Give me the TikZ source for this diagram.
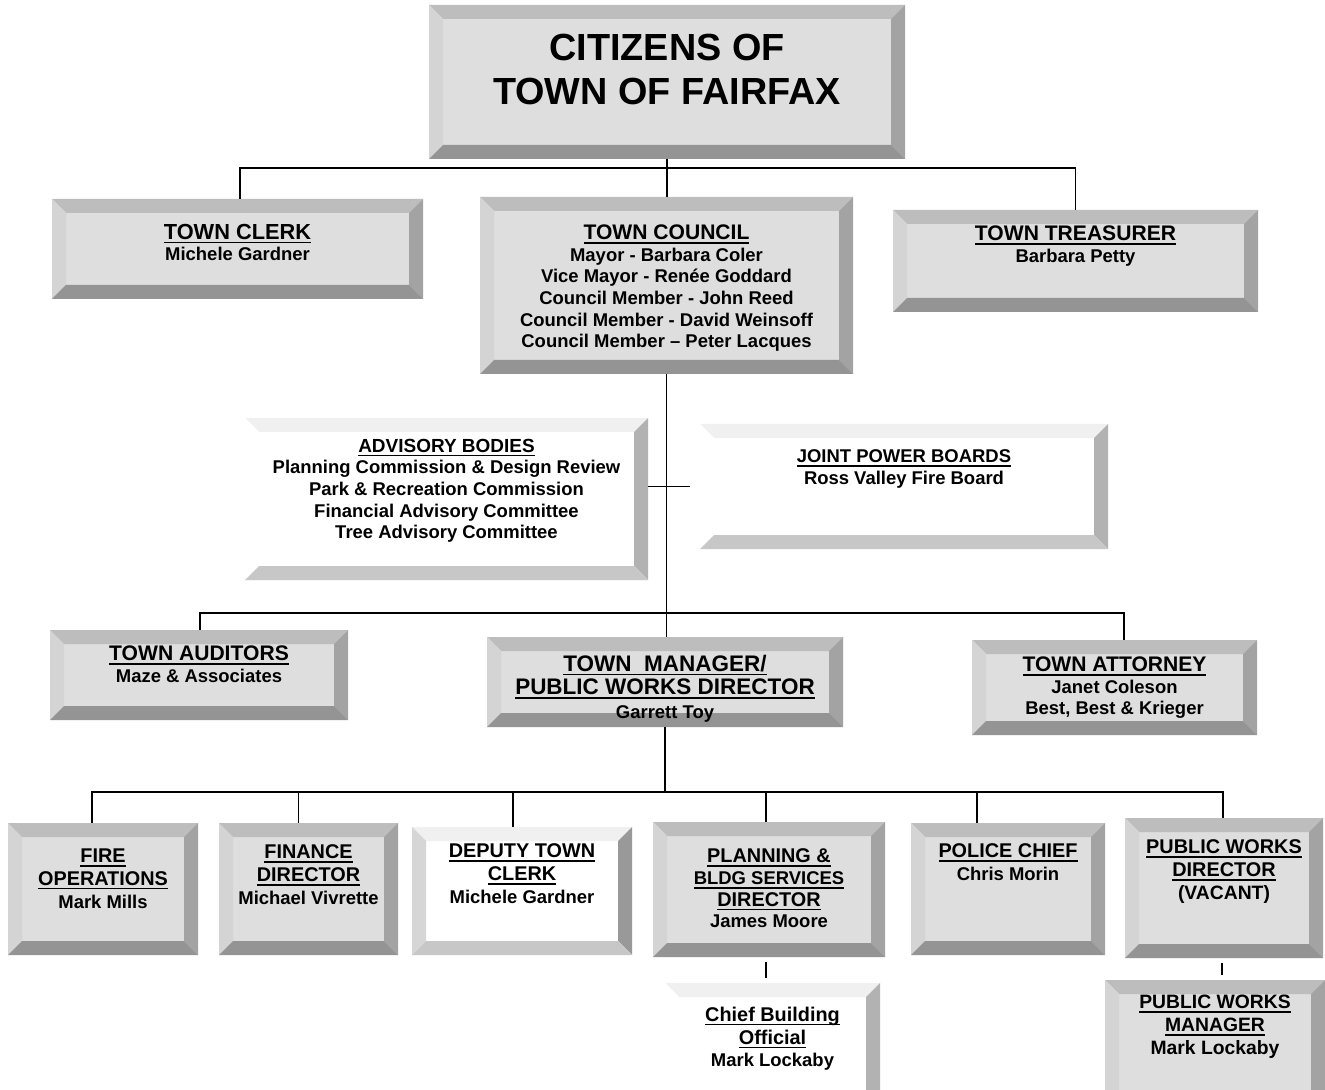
\documentclass[tikz,border=0pt]{standalone}
\usepackage{fontspec}
\setmainfont{Liberation Sans}
\usetikzlibrary{calc}

\newcommand{\bevw}{2.8mm}
\newsavebox{\hdbox}
\newcommand{\hdr}[1]{\sbox{\hdbox}{#1}\rlap{\rule[-2.3pt]{\wd\hdbox}{0.85pt}}\usebox{\hdbox}}
\newcommand{\hbig}[1]{\hdr{\fontsize{12}{12.3}\selectfont #1}}
\newcommand{\hmid}[1]{\hdr{\fontsize{11.3}{12.3}\selectfont #1}}

\tikzset{
  bvtop/.style={fill=black!26},
  bvleft/.style={fill=black!17},
  bvright/.style={fill=black!36},
  bvbot/.style={fill=black!42},
  bevel/.style={rectangle, inner sep=0pt, fill=black!13,
    path picture={
      \path[bvtop] (path picture bounding box.north west) -- (path picture bounding box.north east)
        -- ++(-\bevw,-\bevw) -- ($(path picture bounding box.north west)+(\bevw,-\bevw)$) -- cycle;
      \path[bvleft] (path picture bounding box.north west) -- (path picture bounding box.south west)
        -- ++(\bevw,\bevw) -- ($(path picture bounding box.north west)+(\bevw,-\bevw)$) -- cycle;
      \path[bvright] (path picture bounding box.north east) -- (path picture bounding box.south east)
        -- ++(-\bevw,\bevw) -- ($(path picture bounding box.north east)+(-\bevw,-\bevw)$) -- cycle;
      \path[bvbot] (path picture bounding box.south west) -- (path picture bounding box.south east)
        -- ++(-\bevw,\bevw) -- ($(path picture bounding box.south west)+(\bevw,\bevw)$) -- cycle;
    }},
  plain/.style={fill=white, bvtop/.style={fill=black!6}, bvleft/.style={fill=white},
    bvright/.style={fill=black!30}, bvbot/.style={fill=black!22}},
  bx/.style 2 args={minimum width=#1*0.2mm, minimum height=#2*0.2mm},
  lbl/.style={font=\bfseries\fontsize{10.5}{12.3}\selectfont, align=center, inner sep=0pt, anchor=north},
  dept/.style={lbl, font=\bfseries\fontsize{10.5}{12.9}\selectfont},
  link/.style={line width=0.8pt}
}

\begin{document}
\begin{tikzpicture}[x=0.2mm, y=-0.2mm]
    \useasboundingbox[fill=white] (0,0) rectangle (1325,1090);

    % citizens
    \node[bevel, bx={476}{154}] (citizens) at (667,82) {};
    \node[lbl, font=\bfseries\fontsize{21.5}{25}\selectfont] (tcitizens) at ($(citizens.north)+(0,29)$) {CITIZENS OF\\TOWN OF FAIRFAX};

    % elected level
    \node[bevel, bx={371}{100}] (clerk) at (237.5,249) {};
    \node[lbl] (tclerk) at ($(clerk.north)+(0,25)$) {\hdr{\fontsize{12.4}{12.3}\selectfont TOWN CLERK}\\Michele Gardner};

    \node[bevel, bx={373}{177}] (council) at (666.5,285.5) {};
    \node[lbl] (tcouncil) at ($(council.north)+(0,28)$) {\hbig{TOWN COUNCIL}\\Mayor - Barbara Coler\\Vice Mayor - Renée Goddard\\Council Member - John Reed\\Council Member - David Weinsoff\\Council Member – Peter Lacques};

    \node[bevel, bx={365}{102}] (treasurer) at (1075.5,261) {};
    \node[lbl] (ttreasurer) at ($(treasurer.north)+(0,16)$) {\hbig{TOWN TREASURER}\\Barbara Petty};

    % boards
    \node[bevel, plain, bx={403}{162}] (advisory) at (446.5,499) {};
    \node[lbl] (tadvisory) at ($(advisory.north)+(0,21)$) {\hdr{\fontsize{10.8}{12.3}\selectfont ADVISORY BODIES}\\Planning Commission \& Design Review\\Park \& Recreation Commission\\Financial Advisory Committee\\Tree Advisory Committee};

    \node[bevel, plain, bx={408}{125}] (joint) at (904,486.5) {};
    \node[lbl] (tjoint) at ($(joint.north)+(0,26)$) {\hdr{JOINT POWER BOARDS}\\Ross Valley Fire Board};

    % appointed level
    \node[bevel, bx={298}{90}] (auditors) at (199,675) {};
    \node[lbl] (tauditors) at ($(auditors.north)+(0,16)$) {\hbig{TOWN AUDITORS}\\Maze \& Associates};

    \node[bevel, bx={356}{90}] (manager) at (665,682) {};
    \node[lbl, font=\bfseries\fontsize{10.5}{13.3}\selectfont] (tmanager) at ($(manager.north)+(0,18)$) {\hdr{\fontsize{12.8}{13.3}\selectfont TOWN~~MANAGER/}\\\hdr{\fontsize{12.8}{13.3}\selectfont PUBLIC WORKS DIRECTOR}\\Garrett Toy};

    \node[bevel, bx={285}{95}] (attorney) at (1114.5,687.5) {};
    \node[lbl] (tattorney) at ($(attorney.north)+(0,17)$) {\hbig{TOWN ATTORNEY}\\Janet Coleson\\Best, Best \& Krieger};

    % departments
    \node[bevel, bx={190}{132}] (fire) at (103,889) {};
    \node[dept] (tfire) at ($(fire.north)+(0,26)$) {\hmid{FIRE}\\\hmid{OPERATIONS}\\Mark Mills};

    \node[bevel, bx={179}{132}] (finance) at (308.5,889) {};
    \node[dept] (tfinance) at ($(finance.north)+(0,22)$) {\hmid{FINANCE}\\\hmid{DIRECTOR}\\Michael Vivrette};

    \node[bevel, plain, bvleft/.style={fill=black!16}, bvright/.style={fill=black!40}, bx={220}{128}] (deputy) at (522,891) {};
    \node[dept] (tdeputy) at ($(deputy.north)+(0,17)$) {\hmid{DEPUTY TOWN}\\\hmid{CLERK}\\Michele Gardner};

    \node[bevel, bx={232}{135}] (planning) at (769,889.5) {};
    \node[lbl] (tplanning) at ($(planning.north)+(0,27)$) {\hmid{PLANNING \&}\\\hdr{BLDG SERVICES}\\\hmid{DIRECTOR}\\James Moore};

    \node[bevel, bx={194}{132}] (police) at (1008,889) {};
    \node[dept] (tpolice) at ($(police.north)+(0,21)$) {\hmid{POLICE CHIEF}\\Chris Morin};

    \node[bevel, bx={198}{140}] (pwdir) at (1224,888) {};
    \node[dept, font=\bfseries\fontsize{11}{12.9}\selectfont] (tpwdir) at ($(pwdir.north)+(0,22)$) {\hmid{PUBLIC WORKS}\\\hmid{DIRECTOR}\\(VACANT)};

    \node[bevel, plain, bx={215}{122}] (chief) at (772.5,1044) {};
    \node[dept] (tchief) at ($(chief.north)+(0,24)$) {\hmid{Chief Building}\\\hmid{Official}\\Mark Lockaby};

    \node[bevel, bx={220}{125}] (pwman) at (1215,1042.5) {};
    \node[dept, font=\bfseries\fontsize{11}{13.1}\selectfont] (tpwman) at ($(pwman.north)+(0,15)$) {\hdr{PUBLIC WORKS}\\\hdr{MANAGER}\\Mark Lockaby};

    % buses
    \coordinate (bus1) at (667,168);
    \coordinate (bus2) at (666,613);
    \coordinate (bus3) at (666,792);

    % citizens to elected
    \draw[link] (citizens.south) -- (citizens.south |- council.north);
    \draw[link] ($(clerk.north)+(2.5,0)$) |- (bus1) -| (treasurer.north);

    % council to manager level
    \draw[link] (council.south) -- (council.south |- manager.north);
    \draw[link] ($(auditors.north)+(1,0)$) |- (bus2) -| ($(attorney.north)+(9.5,0)$);
    \draw[link, shorten >=2mm] (advisory.east |- joint.west) -- (joint.west);

    % manager to departments
    \draw[link] (manager.south) -- (manager.south |- bus3);
    \draw[link] ($(fire.north)+(-11,0)$) |- (bus3) -| ($(pwdir.north)+(-1,0)$);
    \foreach \b/\dx in {finance/-10, deputy/-9, planning/-3, police/-31}
        \draw[link] ($(\b.north)+(\dx,0)$) -- ($(\b.north |- bus3)+(\dx,0)$);

    % sub units
    \draw[link, shorten <=1mm, shorten >=1mm] ($(planning.south)+(-3,0)$) -- ($(planning.south |- chief.north)+(-3,0)$);
    \draw[link, shorten <=1mm, shorten >=1mm] ($(pwdir.south)+(-2,0)$) -- ($(pwdir.south |- pwman.north)+(-2,0)$);

\end{tikzpicture}
\end{document}
